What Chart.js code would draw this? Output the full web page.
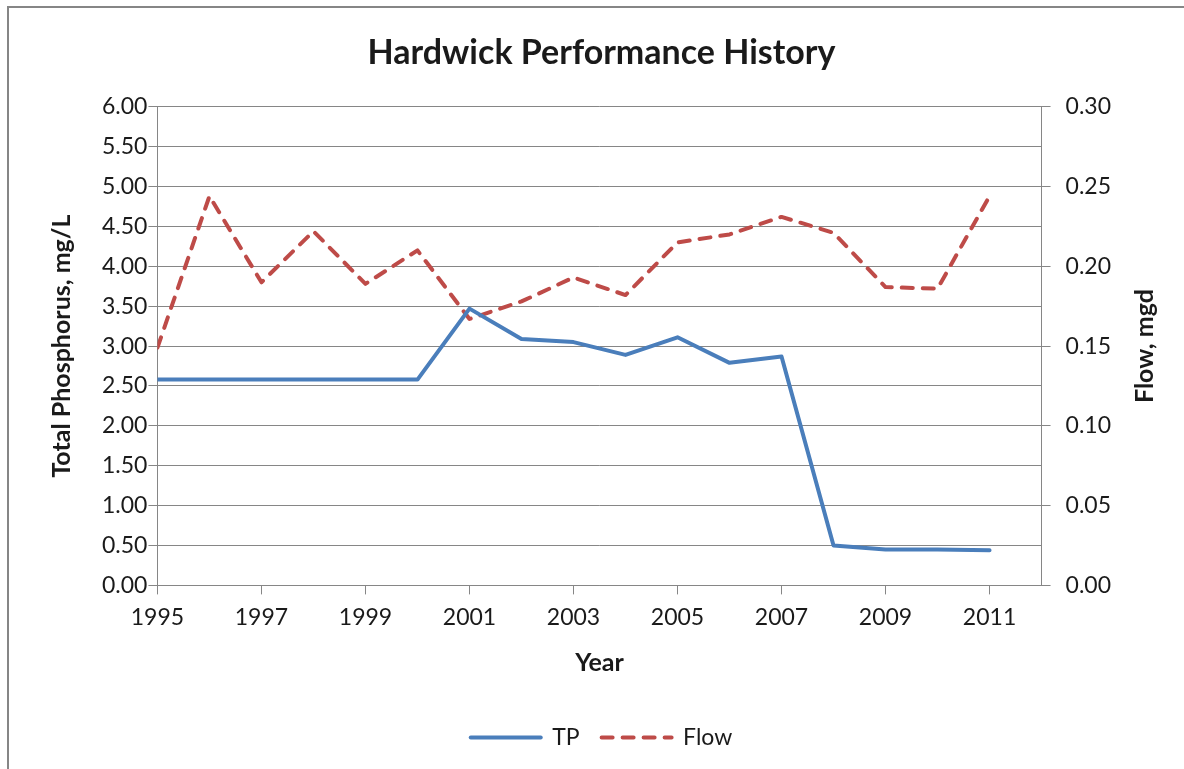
<!DOCTYPE html>
<html>
<head>
<meta charset="utf-8">
<title>Hardwick Performance History</title>
<script src="https://cdn.jsdelivr.net/npm/chart.js@4.4.0/dist/chart.umd.min.js"></script>
<style>
  html, body { margin: 0; padding: 0; background: #fff; overflow: hidden; }
  #wrap { position: relative; width: 1184px; height: 769px; }
  #frame { position: absolute; left: 7px; top: 6px; width: 1300px; height: 900px; border: 2px solid #868686; }
  #chart { position: absolute; left: 0; top: 0; }
</style>
</head>
<body>
<div id="wrap">
  <div id="frame"></div>
  <canvas id="chart" width="1184" height="769"></canvas>
</div>
<script>
var years = [1995, 1996, 1997, 1998, 1999, 2000, 2001, 2002, 2003, 2004, 2005, 2006, 2007, 2008, 2009, 2010, 2011];
var tpValues = [2.58, 2.58, 2.58, 2.58, 2.58, 2.58, 3.47, 3.09, 3.05, 2.89, 3.11, 2.79, 2.87, 0.50, 0.45, 0.45, 0.44];
var flowValues = [0.149, 0.244, 0.190, 0.222, 0.189, 0.210, 0.167, 0.178, 0.193, 0.182, 0.215, 0.220, 0.231, 0.221, 0.187, 0.186, 0.244];
var yearTicks = [1995, 1997, 1999, 2001, 2003, 2005, 2007, 2009, 2011];

var FONT = "Lato, 'DejaVu Sans', sans-serif";
var gridGray = '#868686';
var textColor = '#1a1a1a';
var TITLE_SIZE = 25;

function toPoints(vals) {
  return years.map(function(y, i) { return { x: y, y: vals[i] }; });
}

// Excel puts the secondary axis title reading bottom-to-top, chart.js does not
var rightTitle = {
  id: 'rightTitle',
  afterDraw: function(chart) {
    var s = chart.scales.y1;
    var ctx = chart.ctx;
    ctx.save();
    ctx.translate(s.right - TITLE_SIZE * 1.2 / 2, (s.top + s.bottom) / 2);
    ctx.rotate(-Math.PI / 2);
    ctx.textAlign = 'center';
    ctx.textBaseline = 'middle';
    ctx.fillStyle = textColor;
    ctx.font = 'bold ' + TITLE_SIZE + 'px ' + FONT;
    ctx.fillText('Flow, mgd', 0, 0);
    ctx.restore();
  }
};

var ctx = document.getElementById('chart');
var chart = new Chart(ctx, {
  type: 'line',
  data: {
    datasets: [
      {
        label: 'TP',
        data: toPoints(tpValues),
        yAxisID: 'y',
        borderColor: '#4a7ebb',
        backgroundColor: '#4a7ebb',
        borderWidth: 4,
        pointRadius: 0,
        borderCapStyle: 'round',
        borderJoinStyle: 'round',
        tension: 0
      },
      {
        label: 'Flow',
        data: toPoints(flowValues),
        yAxisID: 'y1',
        borderColor: '#be4b48',
        backgroundColor: '#be4b48',
        borderWidth: 4,
        borderDash: [11, 10],
        borderCapStyle: 'round',
        borderJoinStyle: 'round',
        pointRadius: 0,
        tension: 0
      }
    ]
  },
  options: {
    responsive: false,
    animation: false,
    layout: { padding: { left: 43, right: 24, top: 0, bottom: 10 } },
    plugins: {
      title: {
        display: true,
        text: 'Hardwick Performance History',
        color: textColor,
        font: { family: FONT, size: 34, weight: 'bold' },
        padding: { top: 33, bottom: 33 }
      },
      legend: {
        position: 'bottom',
        labels: {
          usePointStyle: true,
          pointStyle: 'line',
          pointStyleWidth: 70,
          color: textColor,
          font: { family: FONT, size: 23 },
          padding: 22,
          generateLabels: function(chart) {
            var items = Chart.defaults.plugins.legend.labels.generateLabels(chart);
            items.forEach(function(it) {
              var ds = chart.data.datasets[it.datasetIndex];
              it.lineDash = ds.borderDash || [];
              it.lineCap = ds.borderCapStyle;
              it.lineWidth = ds.borderWidth;
              it.strokeStyle = ds.borderColor;
              it.pointStyle = 'line';
            });
            return items;
          }
        }
      },
      tooltip: { enabled: false }
    },
    scales: {
      x: {
        type: 'linear',
        min: 1995,
        max: 2012,
        afterBuildTicks: function(axis) {
          axis.ticks = yearTicks.map(function(v) { return { value: v }; });
        },
        ticks: {
          autoSkip: false,
          maxRotation: 0,
          color: textColor,
          font: { family: FONT, size: 23 },
          padding: 9,
          callback: function(v) { return String(v); }
        },
        grid: { drawOnChartArea: false, color: gridGray, tickLength: 9 },
        border: { color: gridGray, width: 1 },
        title: {
          display: true,
          text: 'Year',
          color: textColor,
          font: { family: FONT, size: TITLE_SIZE, weight: 'bold' },
          padding: { top: 8, bottom: 26 }
        }
      },
      y: {
        position: 'left',
        min: 0,
        max: 6,
        ticks: {
          stepSize: 0.5,
          color: textColor,
          font: { family: FONT, size: 23 },
          padding: 1,
          callback: function(v) { return v.toFixed(2); }
        },
        grid: { color: gridGray, tickLength: 9 },
        border: { color: gridGray, width: 1 },
        title: {
          display: true,
          text: 'Total Phosphorus, mg/L',
          color: textColor,
          font: { family: FONT, size: TITLE_SIZE, weight: 'bold' },
          padding: { top: 4, bottom: 24 }
        }
      },
      y1: {
        position: 'right',
        min: 0,
        max: 0.3,
        ticks: {
          stepSize: 0.05,
          color: textColor,
          font: { family: FONT, size: 23 },
          padding: 15,
          callback: function(v) { return v.toFixed(2); }
        },
        grid: { drawOnChartArea: false, color: gridGray, tickLength: 9 },
        border: { color: gridGray, width: 1 },
        title: {
          display: true,
          text: 'Flow, mgd',
          color: 'rgba(0,0,0,0)',
          font: { family: FONT, size: TITLE_SIZE, weight: 'bold' },
          padding: { top: 4, bottom: 0 }
        }
      }
    }
  },
  plugins: [rightTitle]
});
</script>
</body>
</html>
